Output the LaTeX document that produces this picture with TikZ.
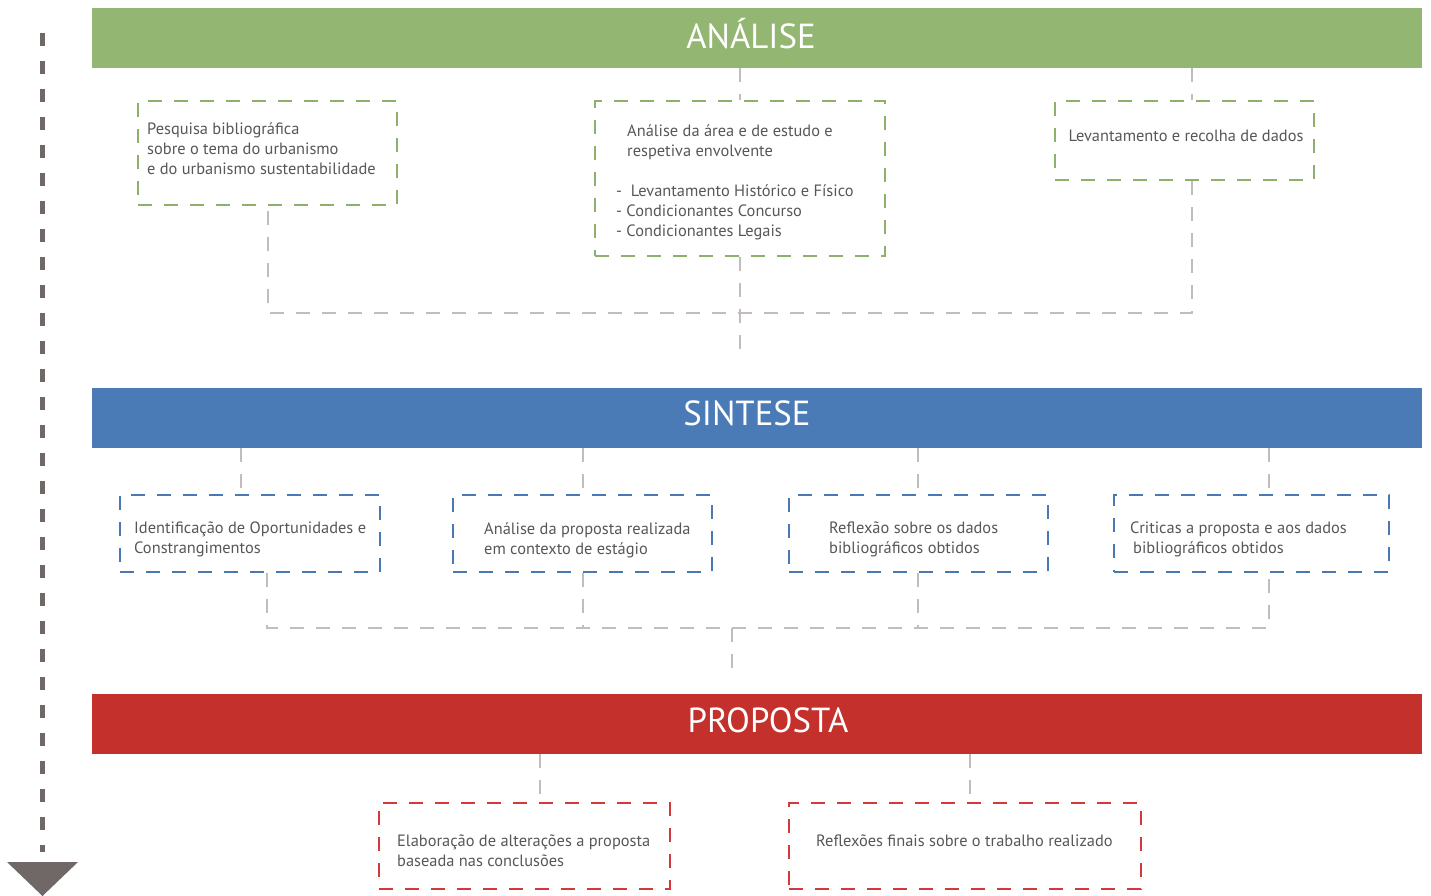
\documentclass[tikz,border=0pt]{standalone}
\usepackage{fontspec}
\setmainfont{PT Sans}
\definecolor{gbar}{HTML}{93B673}
\definecolor{bbar}{HTML}{4A7BB6}
\definecolor{rbar}{HTML}{C4302B}
\definecolor{gdash}{HTML}{8DB06A}
\definecolor{bdash}{HTML}{4A78B4}
\definecolor{rdash}{HTML}{D3383A}
\definecolor{conn}{HTML}{C2BDBA}
\definecolor{txtc}{HTML}{575757}
\definecolor{arrowc}{HTML}{6F6867}
\begin{document}
\begin{tikzpicture}[x=1pt,y=-1pt,
  banner/.style={fill=#1, draw=none, minimum width=1330pt, minimum height=60pt, inner sep=0pt, anchor=north west},
  title/.style={text=white, font=\fontsize{34.8}{38}\selectfont, inner sep=0pt},
  dbox/.style={draw=#1, line width=2.4pt, dash pattern=on 14pt off 12pt, inner sep=0pt},
  txt/.style={text=txtc, font=\fontsize{16.4}{20}\selectfont, align=left, inner sep=0pt, anchor=north west},
  link/.style={draw=conn, line width=2pt, dash pattern=on 14pt off 12pt},
]
\useasboundingbox (0,0) rectangle (1431,896);

% left arrow
\coordinate (ar0) at (42,33);
\coordinate (ar1) at (42,852);
\draw[arrowc, line width=5pt, dash pattern=on 13pt off 15pt] (ar0) -- (ar1);
\fill[arrowc] (7,862) -- (78,862) -- (42.5,896) -- cycle;

% banners
\node[banner=gbar] (ana) at (92,8) {};
\node[title] (anat) at (751,34) {ANÁLISE};
\node[banner=bbar] (sin) at (92,388) {};
\node[title] (sint) at (747,413) {SINTESE};
\node[banner=rbar] (pro) at (92,694) {};
\node[title] (prot) at (768,720) {PROPOSTA};

% ANALISE boxes
\node[dbox=gdash, minimum width=259pt, minimum height=104pt] (a1) at (267.5,153) {};
\node[txt] (a1t) at (147,122) {Pesquisa bibliográfica\\sobre o tema do urbanismo\\e do urbanismo sustentabilidade};
\node[dbox=gdash, minimum width=290pt, minimum height=155pt] (a2) at (740,178.5) {};
\node[txt] (a2t) at (616,124) {\hspace*{11pt}Análise da área e de estudo e\\\hspace*{11pt}respetiva envolvente\\[20pt]-\ \ Levantamento Histórico e Físico\\- Condicionantes Concurso\\- Condicionantes Legais};
\node[dbox=gdash, minimum width=259pt, minimum height=79pt] (a3) at (1184.5,140.5) {};
\node[txt, anchor=center] (a3t) at (1186,136) {Levantamento e recolha de dados};

% ANALISE connectors
\coordinate (c3) at (1192,313);
\coordinate (m1) at (740,357);
\draw[link] (ana.south -| a2.north) -- (a2.north);
\draw[link] (ana.south -| c3) -- (a3.north -| c3);
\draw[link] (a3.south -| c3) -- (c3) -- (c3 -| a1.south) -- (a1.south);
\draw[link] (a2.south) -- (m1);

% SINTESE boxes
\node[dbox=bdash, minimum width=260pt, minimum height=77pt] (s1) at (250,533.5) {};
\node[txt] (s1t) at (134,522) {Identificação de Oportunidades e\\Constrangimentos};
\node[dbox=bdash, minimum width=259pt, minimum height=77pt] (s2) at (582.5,533.5) {};
\node[txt] (s2t) at (484,522) {Análise da proposta realizada\\em contexto de estágio};
\node[dbox=bdash, minimum width=259pt, minimum height=77pt] (s3) at (918.5,533.5) {};
\node[txt] (s3t) at (829,522) {Reflexão sobre os dados\\bibliográficos obtidos};
\node[dbox=bdash, minimum width=275pt, minimum height=77pt] (s4) at (1251.5,533.5) {};
\node[txt] (s4t) at (1130,522) {Criticas a proposta e aos dados\\\hspace*{3pt}bibliográficos obtidos};

% SINTESE connectors
\coordinate (t1) at (241,0);
\coordinate (t2) at (583,0);
\coordinate (t3) at (918,0);
\coordinate (t4) at (1269,0);
\coordinate (b1) at (267,628);
\coordinate (b4) at (1269,628);
\coordinate (m2) at (732,628);
\coordinate (m3) at (732,670);
\draw[link] (sin.south -| t1) -- (s1.north -| t1);
\draw[link] (sin.south -| t2) -- (s2.north -| t2);
\draw[link] (sin.south -| t3) -- (s3.north -| t3);
\draw[link] (sin.south -| t4) -- (s4.north -| t4);
\draw[link] (s1.south -| b1) -- (b1) -- (b4) -- (s4.south -| b4);
\draw[link] (s2.south -| t2) -- (b1 -| t2);
\draw[link] (s3.south -| t3) -- (b1 -| t3);
\draw[link] (m2) -- (m3);

% PROPOSTA boxes
\node[dbox=rdash, minimum width=291pt, minimum height=86pt] (p1) at (524.5,846) {};
\node[txt] (p1t) at (397,835) {Elaboração de alterações a proposta\\baseada nas conclusões};
\node[dbox=rdash, minimum width=352pt, minimum height=86pt] (p2) at (965,846) {};
\node[txt] (p2t) at (816,835) {Reflexões finais sobre o trabalho realizado};

\coordinate (u1) at (540,0);
\coordinate (u2) at (970,0);
\draw[link] (pro.south -| u1) -- (p1.north -| u1);
\draw[link] (pro.south -| u2) -- (p2.north -| u2);
\end{tikzpicture}
\end{document}
